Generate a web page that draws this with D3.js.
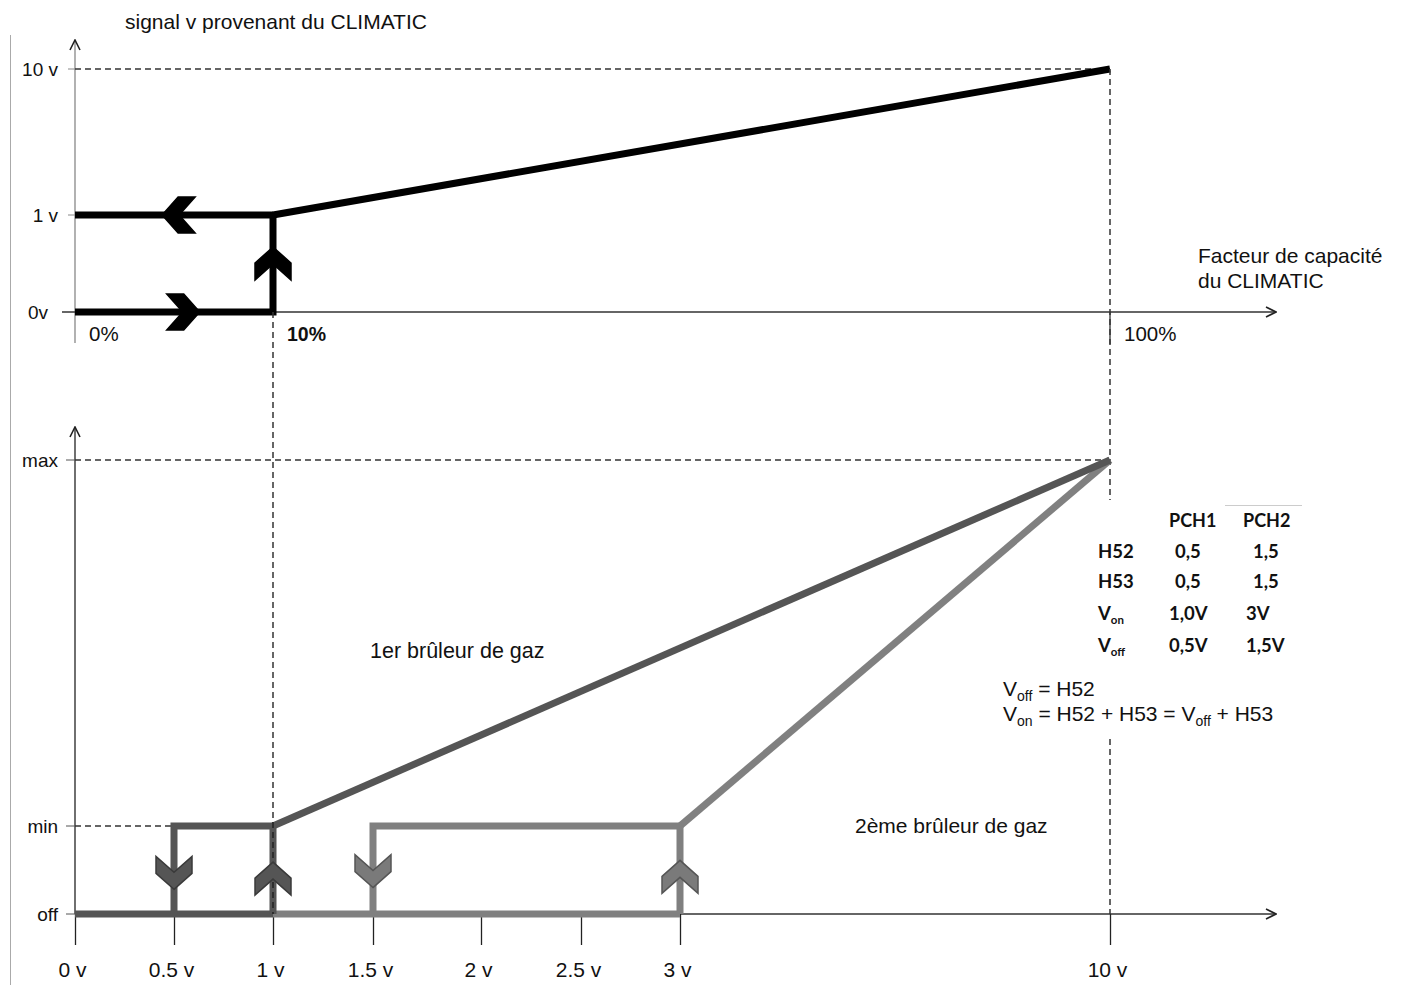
<!DOCTYPE html>
<html>
<head>
<meta charset="utf-8">
<script src="https://cdn.jsdelivr.net/npm/d3@7/dist/d3.min.js"></script>
<style>
  html, body { margin: 0; padding: 0; background: #fff; }
  svg { display: block; }
  text { font-family: "Liberation Sans", Arial, sans-serif; fill: #111; }
  .tbl { font-family: Lato, "Open Sans", sans-serif; font-weight: 700; }
</style>
</head>
<body>
<script>
// ---- Signal from the CLIMATIC (top diagram) ----
const capTicks = [0, 10, 100];
const capLabels = ["0%", "10%", "100%"];
const sigLevels = [0, 1, 10];
const sigLabels = ["0v", "1 v", "10 v"];
const sigRising = [[0, 0], [10, 0], [10, 1]];
const sigFalling = [[10, 1], [0, 1]];
const sigRamp = [[10, 1], [100, 10]];
const sigArrows = [
  { x: 6.3, y: 0, dir: "right" },
  { x: 4.4, y: 1, dir: "left" },
  { x: 10, y: 0.67, dir: "up" }
];

// ---- Gas burners (bottom diagram) ----
const voltTicks = [0, 0.5, 1, 1.5, 2, 2.5, 3, 10];
const voltLabels = ["0 v", "0.5 v", "1 v", "1.5 v", "2 v", "2.5 v", "3 v", "10 v"];
const powerLevels = [0, 1, 2];
const powerLabels = ["off", "min", "max"];
const burner1Off = [[0, 0], [1, 0]];
const burner1Hyst = [[0.5, 0], [0.5, 1], [1, 1], [1, 0]];
const burner1Ramp = [[1, 1], [10, 2]];
const burner2Off = [[1, 0], [3, 0]];
const burner2Hyst = [[1.5, 0], [1.5, 1], [3, 1], [3, 0]];
const burner2Ramp = [[3, 1], [10, 2]];
const burnerArrows = [
  { x: 0.5, y: 0.28, dir: "down", burner: 1 },
  { x: 1, y: 0.59, dir: "up", burner: 1 },
  { x: 1.5, y: 0.30, dir: "down", burner: 2 },
  { x: 3, y: 0.61, dir: "up", burner: 2 }
];

// ---- Parameter table ----
const tableHeader = ["", "PCH1", "PCH2"];
const tableRows = [
  ["H52", "0,5", "1,5"],
  ["H53", "0,5", "1,5"],
  ["V|on", "1,0V", "3V"],
  ["V|off", "0,5V", "1,5V"]
];

const W = 1403, H = 985;
const svg = d3.select("body").append("svg").attr("width", W).attr("height", H);

const xTop = d3.scaleLinear().domain([0, 10, 100]).range([75, 273, 1110]);
const yTop = d3.scaleLinear().domain([0, 1, 10]).range([312, 215, 69]);
const xBot = d3.scaleLinear().domain(voltTicks).range([75, 174, 273, 373, 481, 581, 680, 1110]);
const yBot = d3.scaleLinear().domain([0, 1, 2]).range([914, 826, 460]);

const col1 = "#555555", col2 = "#808080";
const dash = "6,4";

// page frame line on the left
svg.append("line").attr("x1", 10.5).attr("x2", 10.5).attr("y1", 35).attr("y2", H)
  .attr("stroke", "#aaa").attr("stroke-width", 1);

// arrowhead for axes
const defs = svg.append("defs");
defs.append("marker").attr("id", "arr").attr("viewBox", "0 0 12 12")
  .attr("refX", 11).attr("refY", 6).attr("markerWidth", 12).attr("markerHeight", 12)
  .attr("markerUnits", "userSpaceOnUse").attr("orient", "auto")
  .append("path").attr("d", "M1,1 L11,6 L1,11").attr("fill", "none")
  .attr("stroke", "#222").attr("stroke-width", 1.6);

const line = (xs, ys) => d3.line().x(d => xs(d[0])).y(d => ys(d[1]));

function chevron(g, x, y, dir, fill, stroke) {
  const pts = [[0, 0], [-16, -18], [-33, -18], [-17, 0], [-33, 18], [-16, 18]];
  const rot = { right: 0, left: 180, up: -90, down: 90 }[dir];
  g.append("path")
    .attr("d", "M" + pts.map(p => p.join(",")).join("L") + "Z")
    .attr("transform", `translate(${x},${y}) rotate(${rot})`)
    .attr("fill", fill).attr("stroke", stroke).attr("stroke-width", 1.5)
    .attr("stroke-linejoin", "miter");
}

// ================= top diagram =================
const gTop = svg.append("g");

// y axis
gTop.append("line").attr("x1", xTop(0)).attr("x2", xTop(0))
  .attr("y1", 343).attr("y2", 40).attr("stroke", "#888").attr("stroke-width", 1.3)
  .attr("marker-end", "url(#arr)");
// x axis
gTop.append("line").attr("x1", 62).attr("x2", 1276)
  .attr("y1", yTop(0)).attr("y2", yTop(0)).attr("stroke", "#333").attr("stroke-width", 1.3)
  .attr("marker-end", "url(#arr)");

// level ticks and labels
gTop.selectAll(".lt").data(sigLevels.filter(v => v !== 0)).join("line")
  .attr("x1", 68).attr("x2", xTop(0)).attr("y1", d => yTop(d)).attr("y2", d => yTop(d))
  .attr("stroke", "#888");
gTop.selectAll(".ll").data(sigLevels).join("text")
  .attr("x", (d, i) => i === 0 ? 48 : 58).attr("y", d => yTop(d))
  .attr("dy", "0.35em").attr("text-anchor", "end").attr("font-size", 19)
  .text((d, i) => sigLabels[i]);

// 100% tick
gTop.append("line").attr("x1", xTop(100)).attr("x2", xTop(100))
  .attr("y1", yTop(0)).attr("y2", 344).attr("stroke", "#333").attr("stroke-width", 1.3);

// capacity labels
gTop.selectAll(".cl").data(capTicks).join("text")
  .attr("x", d => xTop(d) + 14).attr("y", 341)
  .attr("font-size", (d, i) => i === 1 ? 19.5 : 20.5).attr("font-weight", (d, i) => i === 1 ? 700 : 400)
  .text((d, i) => capLabels[i]);

// dashed guides
gTop.append("line").attr("x1", xTop(0)).attr("x2", xTop(100))
  .attr("y1", yTop(10)).attr("y2", yTop(10))
  .attr("stroke", "#333").attr("stroke-width", 1.5).attr("stroke-dasharray", dash);

svg.append("line").attr("x1", xTop(100)).attr("x2", xTop(100))
  .attr("y1", yTop(10)).attr("y2", yBot(0))
  .attr("stroke", "#333").attr("stroke-width", 1.5).attr("stroke-dasharray", dash);
svg.append("line").attr("x1", xTop(10)).attr("x2", xTop(10))
  .attr("y1", yTop(0)).attr("y2", yBot(0))
  .attr("stroke", "#333").attr("stroke-width", 1.5).attr("stroke-dasharray", dash);

// signal curve
[sigRising, sigFalling, sigRamp].forEach(d => {
  gTop.append("path").datum(d).attr("d", line(xTop, yTop))
    .attr("fill", "none").attr("stroke", "#000").attr("stroke-width", 7)
    .attr("stroke-linejoin", "miter").attr("stroke-linecap", "butt");
});
sigArrows.forEach(a => chevron(gTop, xTop(a.x), yTop(a.y), a.dir, "#000", "#000"));

// titles
gTop.append("text").attr("x", 125).attr("y", 29).attr("font-size", 21)
  .text("signal v provenant du CLIMATIC");
gTop.append("text").attr("x", 1198).attr("y", 263).attr("font-size", 21)
  .text("Facteur de capacité");
gTop.append("text").attr("x", 1198).attr("y", 288).attr("font-size", 21)
  .text("du CLIMATIC");

// ================= bottom diagram =================
const gBot = svg.append("g");

// y axis
gBot.append("line").attr("x1", xBot(0)).attr("x2", xBot(0))
  .attr("y1", yBot(0)).attr("y2", 427).attr("stroke", "#222").attr("stroke-width", 1.3)
  .attr("marker-end", "url(#arr)");
gBot.selectAll(".pt").data(powerLevels).join("line")
  .attr("x1", 66).attr("x2", xBot(0)).attr("y1", d => yBot(d)).attr("y2", d => yBot(d))
  .attr("stroke", "#555");
gBot.selectAll(".pl").data(powerLevels).join("text")
  .attr("x", 58).attr("y", d => yBot(d)).attr("dy", "0.35em")
  .attr("text-anchor", "end").attr("font-size", 19)
  .text((d, i) => powerLabels[i]);

// x axis with ticks below
gBot.append("line").attr("x1", xBot(0)).attr("x2", 1276)
  .attr("y1", yBot(0)).attr("y2", yBot(0)).attr("stroke", "#333").attr("stroke-width", 1.3)
  .attr("marker-end", "url(#arr)");
const xAxis = d3.axisBottom(xBot).tickValues(voltTicks)
  .tickSize(31).tickPadding(17).tickFormat((d, i) => voltLabels[i]);
const xa = gBot.append("g").attr("transform", `translate(0,${yBot(0)})`).call(xAxis);
xa.select(".domain").remove();
xa.selectAll(".tick line").attr("stroke", "#222").attr("stroke-width", 1.3);
xa.selectAll(".tick text").attr("font-family", "'Liberation Sans', Arial, sans-serif")
  .attr("font-size", 21).attr("fill", "#111").attr("dx", "-3");

// dashed guides
gBot.append("line").attr("x1", xBot(0)).attr("x2", xBot(10))
  .attr("y1", yBot(2)).attr("y2", yBot(2))
  .attr("stroke", "#333").attr("stroke-width", 1.5).attr("stroke-dasharray", dash);
gBot.append("line").attr("x1", xBot(0)).attr("x2", xBot(0.5))
  .attr("y1", yBot(1)).attr("y2", yBot(1))
  .attr("stroke", "#333").attr("stroke-width", 1.5).attr("stroke-dasharray", dash);

// white panel behind the parameter table (interrupts the 100% guide)
svg.append("rect").attr("x", 1096).attr("y", 500).attr("width", 210).attr("height", 236)
  .attr("fill", "#fff");
svg.append("line").attr("x1", 1225).attr("x2", 1302).attr("y1", 505.5).attr("y2", 505.5)
  .attr("stroke", "#ccc");

// burner curves
const burnerLine = line(xBot, yBot);
[[burner2Off, col2], [burner2Hyst, col2], [burner2Ramp, col2],
 [burner1Off, col1], [burner1Hyst, col1], [burner1Ramp, col1]].forEach(([d, c]) => {
  gBot.append("path").datum(d).attr("d", burnerLine)
    .attr("fill", "none").attr("stroke", c).attr("stroke-width", 7)
    .attr("stroke-linejoin", "miter").attr("stroke-linecap", "butt");
});

// dashed 10% guide re-drawn over the burner lines
gBot.append("line").attr("x1", xBot(1)).attr("x2", xBot(1))
  .attr("y1", yBot(1) - 4).attr("y2", yBot(0))
  .attr("stroke", "#222").attr("stroke-width", 1.5).attr("stroke-dasharray", dash);

burnerArrows.forEach(a => {
  const fill = a.burner === 1 ? "#555" : "#7a7a7a";
  const stroke = a.burner === 1 ? "#3a3a3a" : "#555";
  chevron(gBot, xBot(a.x), yBot(a.y), a.dir, fill, stroke);
});

gBot.append("text").attr("x", 370).attr("y", 658).attr("font-size", 21.5).text("1er brûleur de gaz");
gBot.append("text").attr("x", 855).attr("y", 833).attr("font-size", 21).text("2ème brûleur de gaz");

// ================= table and formulas =================
const tbl = svg.append("g");
const colX = [1098, 1169, 1243];
const rowY = [527, 558, 588, 620, 652];

function subText(sel, str, size) {
  const [main, sub] = str.split("|");
  sel.append("tspan").text(main);
  if (sub) sel.append("tspan").attr("font-size", size * 0.62).attr("dy", 4).text(sub);
}
tableHeader.forEach((h, j) => {
  tbl.append("text").attr("class", "tbl").attr("x", colX[j]).attr("y", rowY[0])
    .attr("font-size", 18).text(h);
});
tableRows.forEach((r, i) => {
  r.forEach((c, j) => {
    const shift = i < 2 ? (j === 1 ? 6 : j === 2 ? 10 : 0) : (j === 2 ? 3 : 0);
    const t = tbl.append("text").attr("class", "tbl")
      .attr("x", colX[j] + shift).attr("y", rowY[i + 1]).attr("font-size", 18.5);
    subText(t, c, 18.5);
  });
});

// formulas
const f1 = svg.append("text").attr("x", 1003).attr("y", 696).attr("font-size", 21);
f1.append("tspan").text("V");
f1.append("tspan").attr("font-size", 14).attr("dy", 5).text("off");
f1.append("tspan").attr("dy", -5).text(" = H52");

const f2 = svg.append("text").attr("x", 1003).attr("y", 721).attr("font-size", 21);
f2.append("tspan").text("V");
f2.append("tspan").attr("font-size", 14).attr("dy", 5).text("on");
f2.append("tspan").attr("dy", -5).text(" = H52 + H53  = V");
f2.append("tspan").attr("font-size", 14).attr("dy", 5).text("off");
f2.append("tspan").attr("dy", -5).text(" + H53");
</script>
</body>
</html>
